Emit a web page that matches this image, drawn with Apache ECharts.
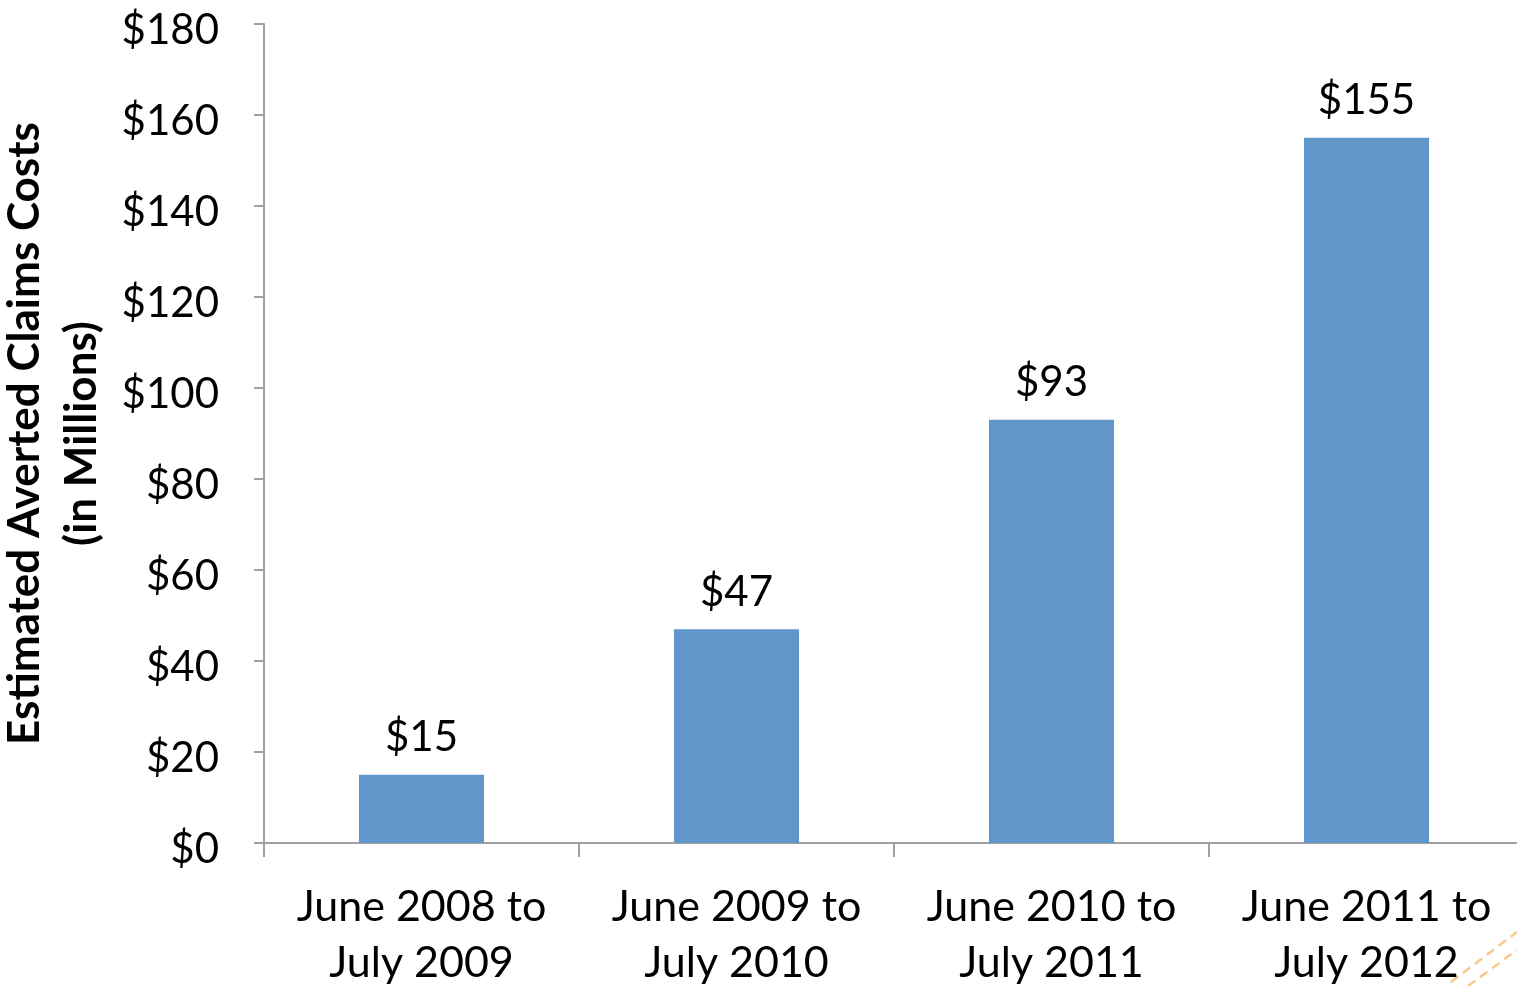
<!DOCTYPE html>
<html>
<head>
<meta charset="utf-8">
<script src="https://cdn.jsdelivr.net/npm/echarts@6/dist/echarts.min.js"></script>
<style>
  html, body { margin: 0; padding: 0; background: #ffffff; }
  #chart { width: 1517px; height: 986px; }
</style>
</head>
<body>
<div id="chart"></div>
<script>
// Averted claims costs by program year (in millions of dollars)
const categories = [
  'June 2008 to\nJuly 2009',
  'June 2009 to\nJuly 2010',
  'June 2010 to\nJuly 2011',
  'June 2011 to\nJuly 2012'
];
const costs = [15, 47, 93, 155];
const yTicks = { min: 0, max: 180, interval: 20 };
const yAxisTitle = 'Estimated Averted Claims Costs\n(in Millions)';

const FONT = 'Lato, "Open Sans", sans-serif';
const AXIS_GRAY = '#a0a0a0';

const chart = echarts.init(document.getElementById('chart'), null, { renderer: 'canvas' });

chart.setOption({
  animation: false,
  backgroundColor: '#ffffff',
  grid: {
    left: 264, top: 24, bottom: 143, right: -7,
    containLabel: false,
    outerBoundsMode: 'none'
  },
  xAxis: {
    type: 'category',
    data: categories,
    axisLine: { show: true, lineStyle: { color: AXIS_GRAY, width: 2 } },
    axisTick: { show: true, interval: 0, length: 14, alignWithLabel: false, lineStyle: { color: AXIS_GRAY, width: 2 } },
    axisLabel: {
      interval: 0,
      hideOverlap: false,
      color: '#000000',
      fontFamily: FONT,
      fontSize: 43,
      lineHeight: 56,
      margin: 36
    }
  },
  yAxis: {
    type: 'value',
    min: yTicks.min,
    max: yTicks.max,
    interval: yTicks.interval,
    name: yAxisTitle,
    nameLocation: 'middle',
    nameGap: 137,
    nameTextStyle: {
      color: '#000000',
      fontFamily: FONT,
      fontWeight: 'bold',
      fontSize: 44,
      lineHeight: 57
    },
    splitLine: { show: false },
    axisLine: { show: true, lineStyle: { color: AXIS_GRAY, width: 2 } },
    axisTick: { show: true, length: 10, lineStyle: { color: AXIS_GRAY, width: 2 } },
    axisLabel: {
      margin: 45,
      formatter: v => '{v|$' + v + '}',
      rich: {
        v: {
          color: '#000000',
          fontFamily: FONT,
          fontSize: 42,
          padding: [12, 0, 0, 0]
        }
      }
    }
  },
  series: [{
    type: 'bar',
    data: costs,
    barWidth: '39.7%',
    itemStyle: { color: '#6096c9' },
    label: {
      show: true,
      position: 'top',
      distance: 16,
      color: '#000000',
      fontFamily: FONT,
      fontSize: 42,
      formatter: p => '$' + p.value
    }
  }],
  graphic: [
    {
      type: 'line',
      shape: { x1: 1451, y1: 982, x2: 1517, y2: 932 },
      style: { stroke: '#f9c98a', lineWidth: 2.5, lineDash: [9, 6] },
      silent: true
    },
    {
      type: 'line',
      shape: { x1: 1468, y1: 986, x2: 1517, y2: 950 },
      style: { stroke: '#f9c98a', lineWidth: 2.5, lineDash: [9, 6] },
      silent: true
    }
  ]
});
</script>
</body>
</html>
